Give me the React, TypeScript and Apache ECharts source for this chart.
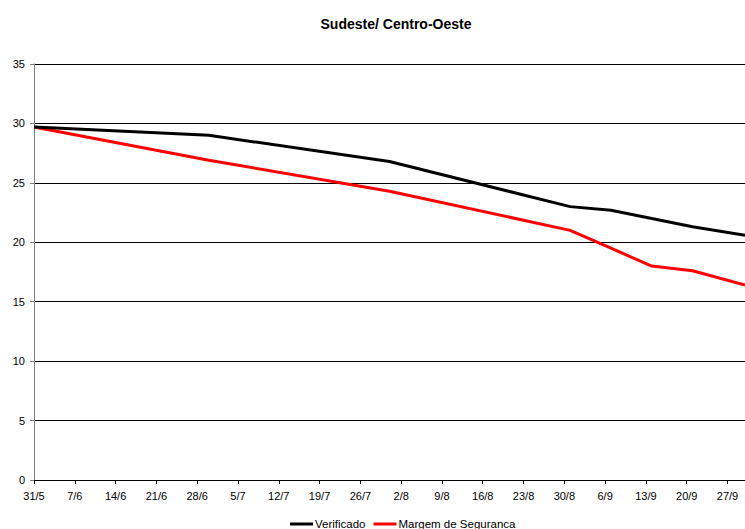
import React, { useEffect, useRef } from "react";
import * as echarts from "echarts";

const TITLE = "Sudeste/ Centro-Oeste";
const TICK_LABELS = ["31/5", "7/6", "14/6", "21/6", "28/6", "5/7", "12/7", "19/7", "26/7", "2/8", "9/8", "16/8", "23/8", "30/8", "6/9", "13/9", "20/9", "27/9"];
// days since 31/5
const DAYS = [0, 30, 61, 92, 99, 106, 113, 122];
const VERIFICADO = [29.7, 29.0, 26.8, 23.0, 22.7, 22.0, 21.3, 20.6];
const MARGEM = [29.7, 26.9, 24.3, 21.0, 19.5, 18.0, 17.6, 16.4];

export default function App() {
  const ref = useRef<HTMLDivElement>(null);
  useEffect(() => {
    if (!ref.current) return;
    const chart = echarts.init(ref.current, undefined, { renderer: "svg" });
    const font = "'Liberation Sans', Arial, sans-serif";
    chart.setOption({
      animation: false,
      backgroundColor: "#ffffff",
      textStyle: { fontFamily: font },
      title: {
        text: TITLE,
        left: 391,
        top: 12,
        textAlign: "center",
        textStyle: { fontFamily: font, fontSize: 14, fontWeight: "bold", color: "#000" },
      },
      legend: {
        top: 513,
        left: 285,
        itemWidth: 23,
        itemHeight: 3,
        itemGap: 8,
        icon: "rect",
        textStyle: { fontFamily: font, fontSize: 11.5, color: "#000", padding: [0, 0, 0, -3] },
        data: ["Verificado", "Margem de Seguranca"],
      },
      grid: { left: 34, right: 0, top: 64, bottom: 49, containLabel: false },
      xAxis: {
        type: "value",
        min: 0,
        max: 122,
        interval: 7,
        axisLine: { lineStyle: { color: "#000", width: 1 } },
        axisTick: { show: true, length: 4, lineStyle: { color: "#000" } },
        axisLabel: {
          color: "#000",
          fontSize: 11,
          fontFamily: font,
          margin: 10,
          showMaxLabel: false,
          formatter: (v: number) => (v % 7 === 0 ? TICK_LABELS[v / 7] ?? "" : ""),
        },
        splitLine: { show: false },
      },
      yAxis: {
        type: "value",
        min: 0,
        max: 35,
        interval: 5,
        axisLine: { show: true, lineStyle: { color: "#808080", width: 1 } },
        axisTick: { show: true, length: 4, lineStyle: { color: "#808080" } },
        axisLabel: { color: "#000", fontSize: 11, fontFamily: font, margin: 9 },
        splitLine: { show: true, lineStyle: { color: "#000", width: 1 } },
      },
      series: [
        {
          name: "Verificado",
          type: "line",
          data: DAYS.map((d, i) => [d, VERIFICADO[i]]),
          symbol: "none",
          color: "#000000",
          lineStyle: { color: "#000000", width: 3 },
          z: 3,
        },
        {
          name: "Margem de Seguranca",
          type: "line",
          data: DAYS.map((d, i) => [d, MARGEM[i]]),
          symbol: "none",
          color: "#ff0000",
          lineStyle: { color: "#ff0000", width: 3 },
          z: 2,
        },
      ],
    });
    return () => chart.dispose();
  }, []);
  return (
    <div
      ref={ref}
      style={{ position: "fixed", left: 0, top: 0, width: 745, height: 529 }}
    />
  );
}
